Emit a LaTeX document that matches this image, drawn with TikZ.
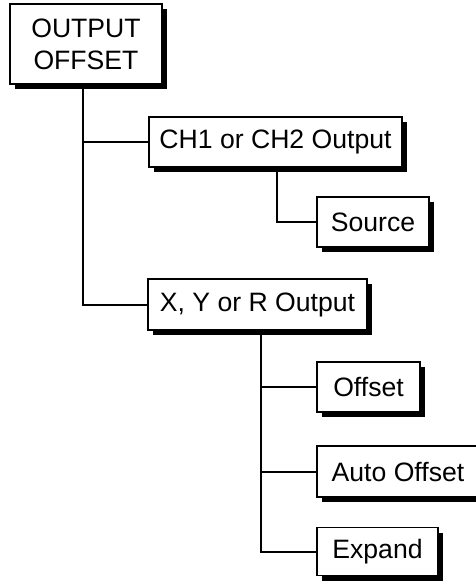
\documentclass[tikz,border=0pt]{standalone}
\usepackage{fontspec}
\setmainfont{Liberation Sans}
\usetikzlibrary{shadows}

\begin{document}
\begin{tikzpicture}[x=1pt, y=-1pt,
		box/.style={draw, line width=1.5pt, fill=white, inner sep=0pt,
			font=\fontsize{26.6}{32}\selectfont,
			drop shadow={shadow xshift=5pt, shadow yshift=-5pt, fill=black, opacity=1}},
		link/.style={line width=2pt}]
			\useasboundingbox (0,0) rectangle (475,581);

			% Menu boxes
			\node[box, align=center, minimum width=152pt, minimum height=80pt] (top) at (86,44) {OUTPUT\\OFFSET};
			\node[box, minimum width=253pt, minimum height=50pt] (ch) at (275.5,142) {CH1 or CH2 Output};
			\node[box, minimum width=112pt, minimum height=50pt] (src) at (373,222) {Source};
			\node[box, minimum width=219pt, minimum height=51pt] (xyr) at (257.5,304.5) {X, Y or R Output};
			\node[box, minimum width=103pt, minimum height=50pt] (off) at (368.5,387) {Offset};
			\node[box, minimum width=162pt, minimum height=51pt] (auto) at (398,471.5) {Auto Offset};
			\node[box, minimum width=121pt, minimum height=48pt] (exp) at (377.5,551.5) {Expand};

			% Tree lines
			\coordinate (t0) at (83,84);
			\coordinate (t1) at (261,330);
			\draw[link] (t0) |- (ch.west);
			\draw[link] (t0) |- (xyr.west);
			\draw[link] (ch.south -| 277,0) |- (src.west);
			\draw[link] (t1) |- (off.west);
			\draw[link] (t1) |- (auto.west);
			\draw[link] (t1) |- (exp.west);
		\end{tikzpicture}
\end{document}
